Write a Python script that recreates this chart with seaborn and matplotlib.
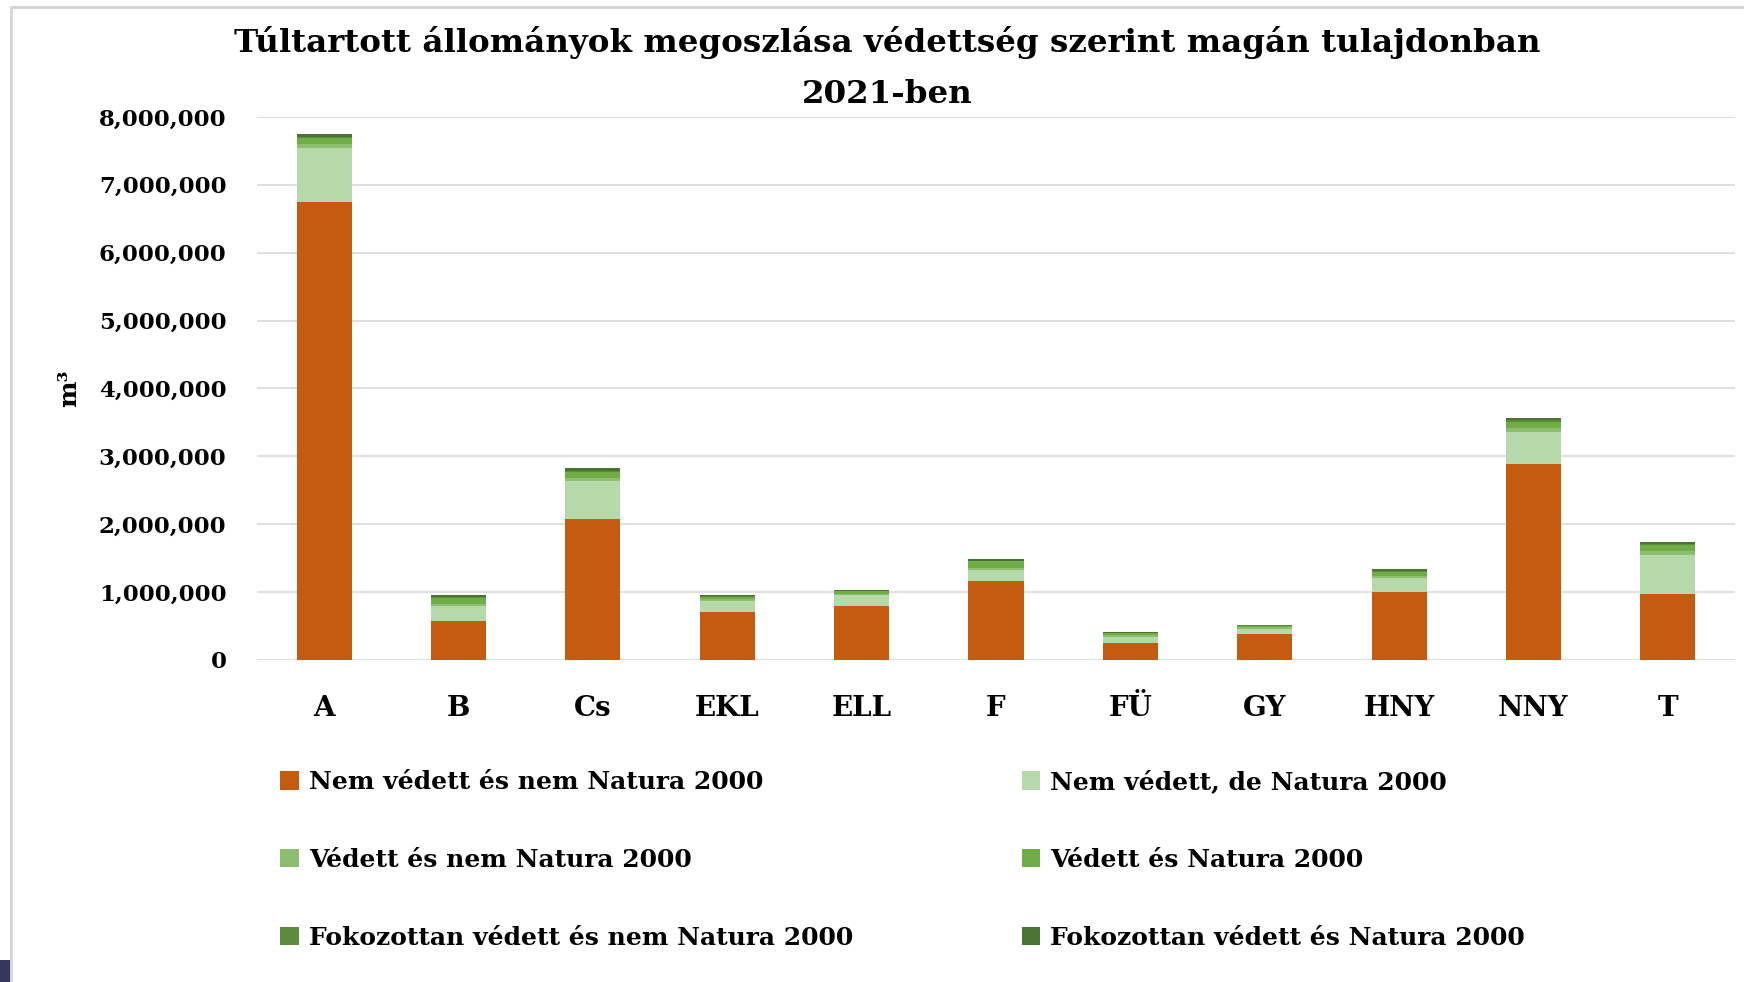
import matplotlib
matplotlib.use("Agg")
import matplotlib.pyplot as plt
from matplotlib.patches import Patch, Rectangle
from matplotlib.lines import Line2D
from matplotlib.ticker import FuncFormatter
import seaborn as sns
import pandas as pd
import numpy as np

categories = ["A", "B", "Cs", "EKL", "ELL", "F", "FÜ", "GY", "HNY", "NNY", "T"]

nem_vedett_nem_natura = [6740000, 570000, 2080000, 700000, 800000, 1160000, 250000, 380000, 1000000, 2890000, 970000]
nem_vedett_de_natura = [800000, 220000, 550000, 170000, 150000, 170000, 90000, 80000, 200000, 470000, 580000]
vedett_nem_natura = [60000, 30000, 50000, 20000, 20000, 30000, 20000, 20000, 30000, 50000, 50000]
vedett_natura = [90000, 90000, 90000, 40000, 40000, 90000, 30000, 20000, 70000, 100000, 90000]
fokozottan_nem_natura = [20000, 10000, 20000, 10000, 10000, 10000, 10000, 10000, 10000, 20000, 20000]
fokozottan_natura = [40000, 30000, 30000, 10000, 10000, 30000, 10000, 10000, 30000, 30000, 30000]

series_names = [
    "Nem védett és nem Natura 2000",
    "Nem védett, de Natura 2000",
    "Védett és nem Natura 2000",
    "Védett és Natura 2000",
    "Fokozottan védett és nem Natura 2000",
    "Fokozottan védett és Natura 2000",
]
series_values = [
    nem_vedett_nem_natura,
    nem_vedett_de_natura,
    vedett_nem_natura,
    vedett_natura,
    fokozottan_nem_natura,
    fokozottan_natura,
]
colors = ["#C55A11", "#B5D9A8", "#8DBD6E", "#70AD47", "#5B8C3B", "#4B7333"]

title = "Túltartott állományok megoszlása védettség szerint magán tulajdonban\n2021-ben"
ylabel = "m³"

sns.set_theme(style="white")
plt.rcParams["font.family"] = ["DejaVu Serif"]
plt.rcParams["font.weight"] = "bold"
plt.rcParams["text.color"] = "black"
plt.rcParams["axes.labelcolor"] = "black"
plt.rcParams["xtick.color"] = "black"
plt.rcParams["ytick.color"] = "black"

fig = plt.figure(figsize=(17.44, 9.82), dpi=100)
ax = fig.add_axes([0.1474, 0.328, 0.8474, 0.553])

# stacked bars via overlapping cumulative sums (top series drawn first)
cum = np.cumsum(np.array(series_values, dtype=float), axis=0)
for i in range(len(series_names) - 1, -1, -1):
    df = pd.DataFrame({"cat": categories, "val": cum[i]})
    sns.barplot(data=df, x="cat", y="val", color=colors[i], saturation=1,
                width=0.41, ax=ax, edgecolor="none", linewidth=0, zorder=3)

ax.set_ylim(0, 8000000)
ax.set_xlim(-0.5, len(categories) - 0.5)
ax.set_yticks(np.arange(0, 8000001, 1000000))
ax.yaxis.set_major_formatter(FuncFormatter(lambda v, p: f"{int(v):,}"))
ax.grid(axis="y", color="#d9d9d9", linewidth=1.2, zorder=0)
ax.grid(axis="x", visible=False)
for s in ax.spines.values():
    s.set_visible(False)
ax.tick_params(axis="y", labelsize=16.5, pad=22, length=0, labelcolor="black")
ax.tick_params(axis="x", labelsize=20, pad=25, length=0, labelcolor="black")
for lab in ax.get_xticklabels() + ax.get_yticklabels():
    lab.set_fontweight("bold")
ax.set_xlabel("")
ax.set_ylabel(ylabel, fontsize=18, fontweight="bold", color="black")
ax.yaxis.set_label_coords(-0.119, 0.5)

fig.text(0.509, 0.974, title, ha="center", va="top", fontsize=23.4,
         fontweight="bold", linespacing=1.85, color="black")

order = [0, 2, 4, 1, 3, 5]
handles = [Patch(facecolor=colors[i], edgecolor="none") for i in order]
labels = [series_names[i] for i in order]
leg = fig.legend(handles, labels, ncol=2, loc="upper left",
                 bbox_to_anchor=(0.155, 0.226), frameon=False,
                 prop={"size": 18, "weight": "bold"},
                 handlelength=0.75, handleheight=0.75, handletextpad=0.4,
                 labelspacing=2.15, columnspacing=6.73, borderaxespad=0)
for t in leg.get_texts():
    t.set_color("black")

# screenshot frame decorations
fig.add_artist(Line2D([11 / 1744, 1.0], [1 - 7 / 982, 1 - 7 / 982],
                      transform=fig.transFigure, color="#d0d0d0", linewidth=2))
fig.add_artist(Line2D([11 / 1744, 11 / 1744], [0, 1 - 7 / 982],
                      transform=fig.transFigure, color="#d6d6d6", linewidth=2))
fig.add_artist(Rectangle((0, 0), 10 / 1744, 22 / 982, transform=fig.transFigure,
                         facecolor="#363760", edgecolor="none"))

fig.savefig("out.png", dpi=100, facecolor="white")
